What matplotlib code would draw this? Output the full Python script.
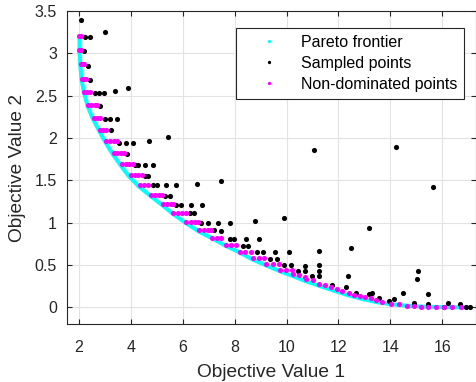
import matplotlib
matplotlib.use("Agg")
import matplotlib.pyplot as plt
from matplotlib.lines import Line2D

plt.rcParams['font.family'] = ['Liberation Sans', 'DejaVu Sans']

# Pareto frontier (traced along the lower edge of the point clusters)
front_x = [2.02, 2.02, 2.05, 2.10, 2.19, 2.33, 2.53, 2.77, 3.02, 3.30, 3.60, 3.92,
           4.30, 4.74, 5.20, 5.60, 6.10, 6.60, 7.10, 7.64, 8.18, 8.66, 9.18, 9.72,
           10.24, 10.73, 11.30, 11.80, 12.30, 12.90, 13.50, 14.10, 14.70, 15.30,
           16.00, 16.90]
front_y = [3.20, 3.03, 2.86, 2.69, 2.54, 2.38, 2.23, 2.09, 1.95, 1.81, 1.68, 1.55,
           1.43, 1.32, 1.21, 1.11, 1.00, 0.90, 0.82, 0.73, 0.65, 0.57, 0.50, 0.43,
           0.37, 0.31, 0.25, 0.20, 0.15, 0.10, 0.06, 0.035, 0.018, 0.008,
           0.003, 0.0]

# sampled points (only the ones visible around the non-dominated set)
samp_x = [2.09, 2.22, 2.41, 2.99, 2.19, 2.35, 2.44, 2.60, 2.77, 2.95, 3.38, 3.90,
          2.80, 3.02, 3.18, 3.46, 3.25, 3.53, 3.82, 4.10, 4.69, 5.44, 3.85,
          4.14, 4.27, 4.54, 4.85, 4.53, 4.65, 4.85, 5.00, 5.36, 5.74, 6.54, 7.47,
          5.30, 5.49, 5.75, 5.94, 6.32, 6.73, 6.26, 6.45, 6.71, 6.96, 7.35, 7.80,
          7.22, 7.48, 7.80, 7.99, 8.78, 9.91, 8.44, 8.92, 8.31, 8.53,
          8.85, 9.08, 9.57, 10.08, 9.37, 9.62, 9.91, 10.17, 10.45, 10.71, 10.71,
          10.98, 11.23, 11.23, 11.23, 11.23, 11.75, 12.28, 12.38, 12.50,
          12.67, 13.18, 13.28, 13.18, 13.57, 13.95, 14.15, 14.49,
          14.91, 15.02, 15.08, 15.46, 15.46, 15.65, 16.08, 16.21, 16.67, 16.90, 17.05,
          11.05, 14.22]
samp_y = [3.39, 3.19, 3.19, 3.25, 3.03, 2.85, 2.69, 2.53, 2.53, 2.53, 2.56, 2.59,
          2.38, 2.23, 2.23, 2.23, 2.09, 1.94, 1.94, 1.94, 1.97, 2.01, 1.81,
          1.68, 1.68, 1.68, 1.68, 1.55, 1.55, 1.44, 1.44, 1.44, 1.44, 1.46, 1.49,
          1.32, 1.32, 1.21, 1.21, 1.21, 1.21, 1.11, 1.11, 1.00, 1.00, 1.00, 1.00,
          0.91, 0.90, 0.81, 0.81, 1.02, 1.06, 0.81, 0.81, 0.73, 0.73,
          0.65, 0.65, 0.65, 0.65, 0.57, 0.57, 0.50, 0.50, 0.43, 0.43, 0.49,
          0.37, 0.37, 0.67, 0.50, 0.43, 0.26, 0.24, 0.37, 0.70,
          0.17, 0.16, 0.17, 0.94, 0.11, 0.07, 0.10, 0.17,
          0.05, 0.34, 0.43, 0.16, 0.04, 1.42, 0.01, 0.05, 0.035, 0.01, 0.01,
          1.86, 1.90]

# non-dominated points
nd_x = [2.02, 2.07, 2.02, 2.07, 2.06, 2.13, 2.20, 2.11, 2.18, 2.26, 2.21, 2.31, 2.42,
        2.36, 2.48, 2.60, 2.70, 2.56, 2.69, 2.82, 2.80, 2.93, 3.06,
        3.05, 3.20, 3.35, 3.48, 3.34, 3.48, 3.62, 3.75, 3.66, 3.80, 3.94, 4.07,
        3.99, 4.14, 4.29, 4.44, 4.37, 4.52, 4.67, 4.79, 4.94, 5.09, 5.20,
        5.24, 5.39, 5.54, 5.62, 5.63, 5.80, 5.97, 6.12, 6.14, 6.30, 6.46, 6.58,
        6.63, 6.80, 6.96, 7.08, 7.14, 7.30, 7.47, 7.67, 7.86, 8.06,
        8.21, 8.41, 8.63, 8.69, 8.92, 9.14, 9.21, 9.46, 9.69, 9.75, 9.98, 10.21,
        10.26, 10.49, 10.72, 10.75, 11.00, 11.23, 11.49, 11.71, 11.96, 12.15, 12.41,
        12.60, 12.82, 13.02, 13.25, 13.44, 13.69, 14.02, 14.33, 14.63, 14.91, 15.17,
        15.46, 15.75, 16.07, 16.38, 16.71]
nd_y = [3.21, 3.21, 3.04, 3.04, 2.87, 2.87, 2.87, 2.70, 2.70, 2.70, 2.55, 2.55, 2.55,
        2.39, 2.39, 2.39, 2.39, 2.24, 2.24, 2.24, 2.10, 2.10, 2.10,
        1.96, 1.96, 1.96, 1.96, 1.82, 1.82, 1.82, 1.82, 1.69, 1.69, 1.69, 1.69,
        1.56, 1.56, 1.56, 1.56, 1.44, 1.44, 1.44, 1.33, 1.33, 1.33, 1.33,
        1.22, 1.22, 1.22, 1.22, 1.12, 1.12, 1.12, 1.12, 1.01, 1.01, 1.01, 1.01,
        0.91, 0.91, 0.91, 0.91, 0.82, 0.82, 0.82, 0.74, 0.74, 0.74,
        0.66, 0.66, 0.66, 0.58, 0.58, 0.58, 0.51, 0.51, 0.51, 0.44, 0.44, 0.44,
        0.39, 0.38, 0.36, 0.33, 0.32, 0.28, 0.27, 0.24, 0.22, 0.19, 0.17,
        0.145, 0.13, 0.12, 0.105, 0.085, 0.065, 0.045, 0.035, 0.02, 0.015, 0.01,
        0.01, 0.005, 0.003, 0.002, 0.0]

xticks = [2, 4, 6, 8, 10, 12, 14, 16]
yticks = [0, 0.5, 1, 1.5, 2, 2.5, 3, 3.5]
ytick_labels = ['0', '0.5', '1', '1.5', '2', '2.5', '3', '3.5']

dark = '#262626'

fig = plt.figure(figsize=(4.77, 3.82), dpi=100)
ax = fig.add_axes([0.14, 0.151, 0.858, 0.820])

# frontier as a thick cyan band, then the points on top
ax.plot(front_x, front_y, '-', color='cyan', lw=2.9, solid_capstyle='round', zorder=2)
ax.plot(samp_x, samp_y, 'o', color='black', ms=3.7, mew=0, zorder=3)
ax.plot(nd_x, nd_y, 'o', color='magenta', ms=3.7, mew=0, zorder=4)

ax.set_xlim(1.53, 17.3)
ax.set_ylim(-0.2, 3.5)
ax.set_xticks(xticks)
ax.set_yticks(yticks, ytick_labels)
ax.grid(True, color='#e3e3e3', lw=0.8)
ax.set_axisbelow(True)

for s in ax.spines.values():
    s.set_color(dark)
    s.set_linewidth(0.8)
ax.tick_params(direction='in', length=3.5, width=0.8, colors=dark,
               labelsize=11.5, top=True, right=True)
ax.tick_params(axis='x', pad=11.5)
ax.tick_params(axis='y', pad=7)

ax.set_xlabel('Objective Value 1', fontsize=13.8, color=dark, labelpad=6)
ax.set_ylabel('Objective Value 2', fontsize=13.8, color=dark, labelpad=6)

# legend with small dot handles like the original
handles = [Line2D([0], [0], ls='none', marker='o', ms=2.4, mew=0, color='cyan'),
           Line2D([0], [0], ls='none', marker='o', ms=2.4, mew=0, color='black'),
           Line2D([0], [0], ls='none', marker='o', ms=2.4, mew=0, color='magenta')]
labels = ['Pareto frontier', 'Sampled points', 'Non-dominated points']
leg = ax.legend(handles, labels, loc='upper right', bbox_to_anchor=(0.971, 0.947),
                borderaxespad=0, fontsize=11.5, fancybox=False, framealpha=1,
                edgecolor=dark, borderpad=0.45, handlelength=3.3,
                handletextpad=0.3, labelspacing=0.38)
leg.get_frame().set_linewidth(0.8)
for t in leg.get_texts():
    t.set_color('black')

fig.savefig('out.png', dpi=100)
